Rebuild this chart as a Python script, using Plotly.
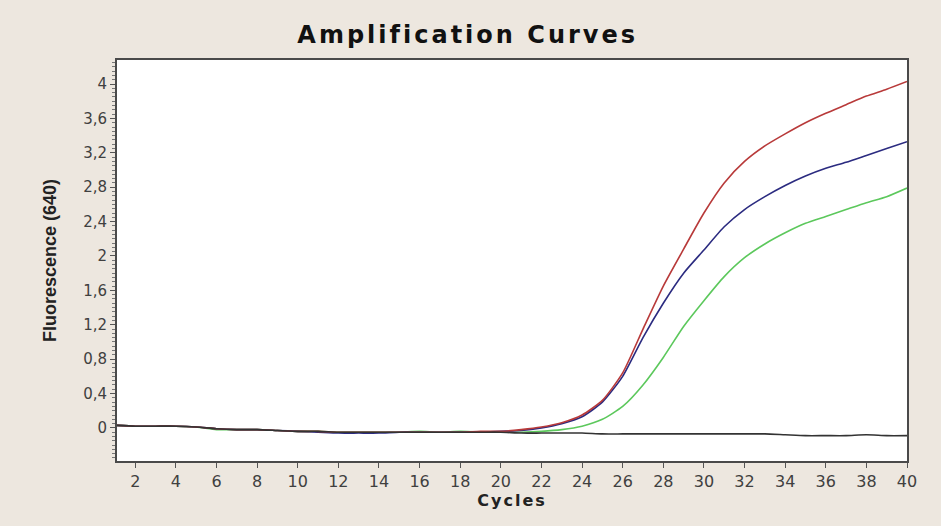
import plotly.graph_objects as go

cycles = list(range(1, 41))

red = [0.03, 0.02, 0.02, 0.02, 0.01, -0.01, -0.02, -0.02, -0.03, -0.04,
       -0.04, -0.05, -0.05, -0.05, -0.05, -0.05, -0.05, -0.05, -0.04, -0.04,
       -0.02, 0.01, 0.06, 0.15, 0.32, 0.64, 1.15, 1.65, 2.08, 2.5,
       2.85, 3.1, 3.28, 3.42, 3.55, 3.66, 3.76, 3.86, 3.94, 4.03]
blue = [0.03, 0.02, 0.02, 0.02, 0.01, -0.01, -0.02, -0.02, -0.03, -0.04,
        -0.05, -0.06, -0.06, -0.06, -0.05, -0.05, -0.05, -0.05, -0.05, -0.04,
        -0.03, 0.0, 0.05, 0.13, 0.3, 0.6, 1.05, 1.45, 1.8, 2.07,
        2.34, 2.54, 2.69, 2.82, 2.93, 3.02, 3.09, 3.17, 3.25, 3.33]
green = [0.03, 0.02, 0.02, 0.02, 0.01, -0.02, -0.02, -0.02, -0.03, -0.04,
         -0.04, -0.05, -0.05, -0.05, -0.05, -0.04, -0.05, -0.04, -0.05, -0.05,
         -0.05, -0.04, -0.02, 0.02, 0.1, 0.25, 0.5, 0.82, 1.18, 1.48,
         1.76, 1.98, 2.14, 2.27, 2.38, 2.46, 2.54, 2.62, 2.69, 2.79]
black = [0.03, 0.02, 0.02, 0.02, 0.01, -0.01, -0.02, -0.02, -0.03, -0.04,
         -0.04, -0.05, -0.05, -0.05, -0.05, -0.05, -0.05, -0.05, -0.05, -0.05,
         -0.06, -0.06, -0.06, -0.06, -0.07, -0.07, -0.07, -0.07, -0.07, -0.07,
         -0.07, -0.07, -0.07, -0.08, -0.09, -0.09, -0.09, -0.08, -0.09, -0.09]

series = [("green", green, "#5cc85c"), ("blue", blue, "#2b2b80"),
          ("red", red, "#b83a3a"), ("black", black, "#333333")]

xtick_vals = list(range(2, 41, 2))
ytick_vals = [0, 0.4, 0.8, 1.2, 1.6, 2, 2.4, 2.8, 3.2, 3.6, 4]
ytick_text = ["0", "0,4", "0,8", "1,2", "1,6", "2", "2,4", "2,8", "3,2", "3,6", "4"]

fig = go.Figure()
for name, vals, col in series:
    fig.add_trace(go.Scatter(x=cycles, y=vals, mode="lines", name=name,
                             line=dict(color=col, width=1.6, shape="spline", smoothing=0.6),
                             showlegend=False))

tickfont = dict(family="DejaVu Sans, sans-serif", size=15, color="#404040")
fig.update_layout(
    width=941, height=526,
    paper_bgcolor="#ede7df", plot_bgcolor="#ffffff",
    margin=dict(l=117, r=34, t=60, b=65),
    title=dict(text='<span style="letter-spacing:3px"><b>Amplification Curves</b></span>',
               x=0.497, xanchor="center", y=0.935, yanchor="middle",
               font=dict(family="DejaVu Sans, sans-serif", size=24, color="#111111")),
    xaxis=dict(range=[1.1, 40], tickvals=xtick_vals, ticks="outside", ticklen=5,
               tickcolor="#555555", tickfont=dict(tickfont, size=16), showgrid=False, zeroline=False,
               showline=True, linecolor="#4a4a4a", linewidth=2, mirror=True,
               title=dict(text='<span style="letter-spacing:2px"><b>Cycles</b></span>', standoff=2,
                          font=dict(family="DejaVu Sans, sans-serif", size=16, color="#222222"))),
    yaxis=dict(range=[-0.385, 4.28], tickvals=ytick_vals, ticktext=ytick_text,
               ticks="outside", ticklen=5, tickcolor="#555555", tickfont=tickfont,
               minor=dict(dtick=0.05, tick0=0, ticks="outside", ticklen=3, tickcolor="#777777"),
               showgrid=False, zeroline=False,
               showline=True, linecolor="#4a4a4a", linewidth=2, mirror=True,
               title=dict(text="<b>Fluorescence (640)</b>", standoff=22,
                          font=dict(family="Liberation Sans Narrow, Arial Narrow, Liberation Sans, sans-serif",
                                    size=18, color="#222222"))),
)

fig.write_html("out.html")
